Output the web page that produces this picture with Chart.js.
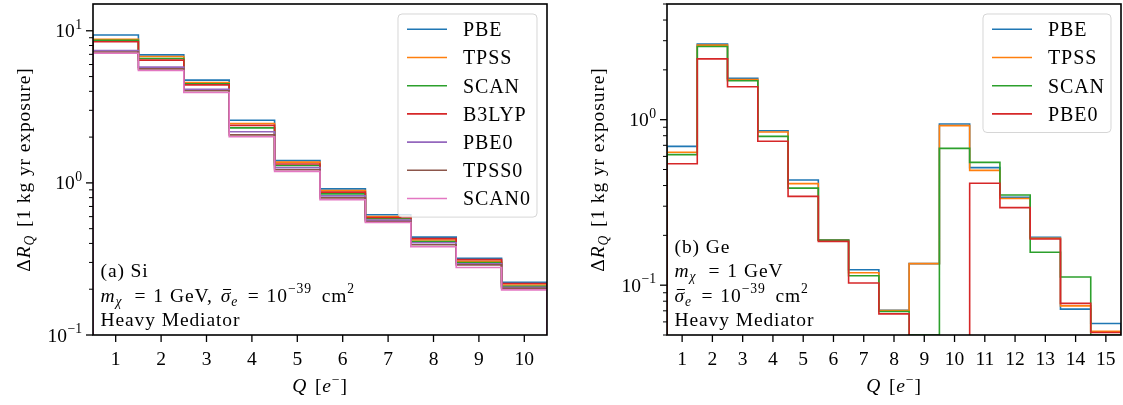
<!DOCTYPE html>
<html><head><meta charset="utf-8">
<script src="https://cdn.jsdelivr.net/npm/chart.js@4/dist/chart.umd.min.js"></script>
<style>
html,body{margin:0;padding:0;background:#fff;width:1123px;height:405px;overflow:hidden}
canvas{position:absolute;top:0}
#c1{left:0}
#c2{left:560px}
</style></head><body>
<canvas id="c1" width="560" height="405"></canvas>
<canvas id="c2" width="563" height="405"></canvas>
<script>
// ---------- DATA ----------
// Panel (a) Si : Q bins and Delta R_Q per functional
const siQ     = [1, 2, 3, 4, 5, 6, 7, 8, 9, 10];
const siPBE   = [9.38, 6.94, 4.74, 2.58, 1.40, 0.913, 0.617, 0.440, 0.319, 0.222];
const siTPSS  = [8.80, 6.77, 4.57, 2.46, 1.37, 0.890, 0.601, 0.421, 0.305, 0.213];
const siSCAN  = [8.66, 6.58, 4.49, 2.30, 1.30, 0.847, 0.581, 0.412, 0.299, 0.209];
const siB3LYP = [8.47, 6.41, 4.41, 2.39, 1.33, 0.869, 0.592, 0.430, 0.313, 0.218];
const siPBE0  = [7.41, 5.77, 4.12, 2.17, 1.26, 0.822, 0.569, 0.404, 0.294, 0.206];
const siTPSS0 = [7.26, 5.62, 4.03, 2.07, 1.22, 0.797, 0.558, 0.392, 0.289, 0.203];
const siSCAN0 = [7.12, 5.48, 3.93, 2.01, 1.19, 0.774, 0.549, 0.380, 0.278, 0.198];
const siNames = ['PBE', 'TPSS', 'SCAN', 'B3LYP', 'PBE0', 'TPSS0', 'SCAN0'];
const siYRange = [0.1, 15];

// Panel (b) Ge  (0 = no rate / below the axis)
const geQ    = [1, 2, 3, 4, 5, 6, 7, 8, 9, 10, 11, 12, 13, 14, 15];
const gePBE  = [0.690, 2.86, 1.78, 0.858, 0.432, 0.188, 0.124, 0.0706, 0.135, 0.941, 0.513, 0.340, 0.195, 0.0717, 0.0587];
const geTPSS = [0.635, 2.82, 1.75, 0.842, 0.411, 0.187, 0.119, 0.0703, 0.135, 0.920, 0.494, 0.334, 0.192, 0.0750, 0.0527];
const geSCAN = [0.615, 2.77, 1.72, 0.793, 0.386, 0.187, 0.114, 0.0694, 0.050, 0.671, 0.552, 0.351, 0.158, 0.112, 0.050];
const gePBE0 = [0.542, 2.33, 1.58, 0.740, 0.344, 0.184, 0.103, 0.0671, 0, 0, 0.413, 0.294, 0.190, 0.0776, 0.0518];
const geNames = ['PBE', 'TPSS', 'SCAN', 'PBE0'];
const geYRange = [0.05, 5];

const siColors = ['#1f77b4', '#ff7f0e', '#2ca02c', '#d62728', '#9467bd', '#8c564b', '#e377c2'];
const geColors = ['#1f77b4', '#ff7f0e', '#2ca02c', '#d62728'];

// ---------- HELPERS ----------
const SERIF = '"Liberation Serif", "DejaVu Serif", serif';
function fnt(size, it) { return (it ? 'italic ' : '') + size + 'px ' + SERIF; }
function partAdv(ctx, p, size, ls) {
  const s = p.sh ? size * 0.7 : size;
  ctx.letterSpacing = '0px';
  ctx.font = fnt(s, p.it);
  return ctx.measureText(p.t).width + ls * [...p.t].length + (p.k || 0) + (p.kb || 0);
}
function richWidth(ctx, parts, size, ls) {
  let w = 0;
  for (const p of parts) w += partAdv(ctx, p, size, ls);
  return w;
}
function richDraw(ctx, x, y, parts, size, align, ls) {
  ls = ls || 0;
  const w = richWidth(ctx, parts, size, ls);
  let cx = align === 'center' ? x - w / 2 : align === 'right' ? x - w : x;
  ctx.textAlign = 'left'; ctx.textBaseline = 'alphabetic'; ctx.fillStyle = '#000';
  for (const p of parts) {
    const adv = partAdv(ctx, p, size, ls);
    const s = p.sh ? size * 0.7 : size;
    ctx.font = fnt(s, p.it);
    const tw = ctx.measureText(p.t).width;
    cx += (p.kb || 0);
    const dy = p.sh === 'sub' ? size * 0.22 : p.sh === 'sup' ? -size * 0.42 : 0;
    ctx.letterSpacing = ls + 'px';
    ctx.fillText(p.t, cx, y + dy);
    ctx.letterSpacing = '0px';
    if (p.bar) {
      ctx.save(); ctx.strokeStyle = '#000'; ctx.lineWidth = 1;
      ctx.beginPath(); ctx.moveTo(cx + size * 0.12, y - size * 0.62); ctx.lineTo(cx + tw + size * 0.04, y - size * 0.62); ctx.stroke();
      ctx.restore();
    }
    cx += adv - (p.kb || 0);
  }
}
function stepPoints(q, v, floor) {
  const pts = [{ x: q[0] - 0.5, y: floor }];
  q.forEach((qq, i) => pts.push({ x: qq - 0.5, y: v[i] > 0 ? v[i] : floor }));
  const last = v[v.length - 1] > 0 ? v[v.length - 1] : floor;
  pts.push({ x: q[q.length - 1] + 0.5, y: last });
  pts.push({ x: q[q.length - 1] + 0.5, y: floor });
  return pts;
}

function makePanel(id, q, series, names, colors, yRange, st) {
  const floor = yRange[0] / 100;
  const n = series.length;
  const datasets = series.map((v, i) => ({
    label: names[i], data: stepPoints(q, v, floor), borderColor: colors[i], backgroundColor: colors[i],
    borderWidth: 1.6, pointRadius: 0, stepped: true, fill: false, order: n - i
  }));
  const FS = 19.5, LS = 0.9;
  const plugin = {
    id: 'panel' + id,
    afterDatasetsDraw(chart) {
      const ctx = chart.ctx, a = chart.chartArea;
      // legend
      const bw = st.legendW, rows = names.length, rh = 28.2;
      const bh = 15.3 + (rows - 1) * rh + 18.6;
      const bx = a.right - 10 - bw, by = a.top + 10;
      ctx.save();
      ctx.beginPath();
      ctx.roundRect(bx, by, bw, bh, 4);
      ctx.fillStyle = 'rgba(255,255,255,0.8)'; ctx.fill();
      ctx.strokeStyle = 'rgba(204,204,204,0.8)'; ctx.lineWidth = 1; ctx.stroke();
      names.forEach((nm, i) => {
        const yy = by + 15.3 + i * rh;
        ctx.strokeStyle = colors[i]; ctx.lineWidth = 1.6;
        ctx.beginPath(); ctx.moveTo(bx + 9, yy); ctx.lineTo(bx + 49, yy); ctx.stroke();
        richDraw(ctx, bx + 65, yy + 6.8, [{ t: nm }], 20, 'left', 0.9);
      });
      ctx.restore();
    },
    afterDraw(chart) {
      const ctx = chart.ctx, a = chart.chartArea;
      const xs = chart.scales.x, ys = chart.scales.y;
      ctx.save();
      ctx.strokeStyle = '#000'; ctx.fillStyle = '#000';
      // x ticks + labels
      q.forEach(qq => {
        const px = xs.getPixelForValue(qq);
        ctx.lineWidth = 1.3; ctx.beginPath(); ctx.moveTo(px, a.bottom); ctx.lineTo(px, a.bottom + 7); ctx.stroke();
        richDraw(ctx, px, a.bottom + 30, [{ t: String(qq) }], FS, 'center', 0);
      });
      // y ticks (log)
      const e0 = Math.floor(Math.log10(yRange[0])), e1 = Math.ceil(Math.log10(yRange[1]));
      for (let e = e0; e <= e1; e++) {
        for (let m = 1; m <= 9; m++) {
          const v = m * Math.pow(10, e);
          if (v < yRange[0] * 0.999 || v > yRange[1] * 1.001) continue;
          const py = ys.getPixelForValue(v);
          const major = m === 1;
          ctx.lineWidth = major ? 1.3 : 1.0;
          ctx.beginPath(); ctx.moveTo(a.left, py); ctx.lineTo(a.left - (major ? 7 : 4), py); ctx.stroke();
          if (major) {
            richDraw(ctx, a.left - 11, py + 6.5, [{ t: '10', k: 0.5 }, { t: (e < 0 ? '\u2212' : '') + Math.abs(e), sh: 'sup' }], FS, 'right', 0);
          }
        }
      }
      // frame
      ctx.lineWidth = 1.6; ctx.strokeStyle = '#000';
      ctx.strokeRect(a.left, a.top, a.right - a.left, a.bottom - a.top);
      // x title
      richDraw(ctx, (a.left + a.right) / 2, a.bottom + 57, [{ t: 'Q', it: true, k: 2 }, { t: ' [' }, { t: 'e', it: true }, { t: '\u2212', sh: 'sup' }, { t: ']' }], FS, 'center', LS);
      // y title
      ctx.save();
      ctx.translate(a.left - 63.5, (a.top + a.bottom) / 2);
      ctx.rotate(-Math.PI / 2);
      richDraw(ctx, 0, 0, [{ t: '\u0394' }, { t: 'R', it: true }, { t: 'Q', it: true, sh: 'sub', k: 2 }, { t: ' [1 kg yr exposure]' }], FS, 'center', LS);
      ctx.restore();
      // annotation
      const ax = a.left + 7.5;
      st.note.forEach((line, i) => {
        richDraw(ctx, ax, a.bottom - 9 - (st.note.length - 1 - i) * 24.4, line, FS, 'left', LS);
      });
      ctx.restore();
    }
  };
  return new Chart(document.getElementById(id), {
    type: 'line',
    data: { datasets },
    options: {
      responsive: false, animation: false, events: [],
      layout: { padding: { top: 4, right: st.padRight, left: 0, bottom: 0 } },
      plugins: { legend: { display: false }, tooltip: { enabled: false } },
      scales: {
        x: { type: 'linear', min: q[0] - 0.5, max: q[q.length - 1] + 0.5, grid: { display: false }, border: { display: false }, ticks: { display: false },
             afterFit(s) { s.height = 70; } },
        y: { type: 'logarithmic', min: yRange[0], max: yRange[1], grid: { display: false }, border: { display: false }, ticks: { display: false },
             afterFit(s) { s.width = st.yAxisW; } }
      }
    },
    plugins: [plugin]
  });
}

// math-style spacing: kb = space before, k = space after
const EQ = { t: '=', kb: 8, k: 7 };
const MX = [{ t: 'm', it: true }, { t: '\u03c7', it: true, sh: 'sub', k: 4 }, EQ, { t: '1', k: 6 }];
const SIG = [{ t: '\u03c3', it: true, bar: true }, { t: 'e', it: true, sh: 'sub', k: 1.5 }, EQ, { t: '10' }, { t: '\u221239', sh: 'sup', k: 2 }, { t: ' cm', kb: 2 }, { t: '2', sh: 'sup' }];
const noteSi = [
  [{ t: '(a) Si' }],
  [...MX, { t: 'GeV,', k: 8 }, ...SIG],
  [{ t: 'Heavy Mediator' }]
];
const noteGe = [
  [{ t: '(b) Ge' }],
  [...MX, { t: 'GeV' }],
  SIG,
  [{ t: 'Heavy Mediator' }]
];

makePanel('c1', siQ, [siPBE, siTPSS, siSCAN, siB3LYP, siPBE0, siTPSS0, siSCAN0], siNames, siColors, siYRange,
  { padRight: 13, yAxisW: 93, legendW: 139, note: noteSi });
makePanel('c2', geQ, [gePBE, geTPSS, geSCAN, gePBE0], geNames, geColors, geYRange,
  { padRight: 2, yAxisW: 107, legendW: 128, note: noteGe });
</script>
</body></html>
